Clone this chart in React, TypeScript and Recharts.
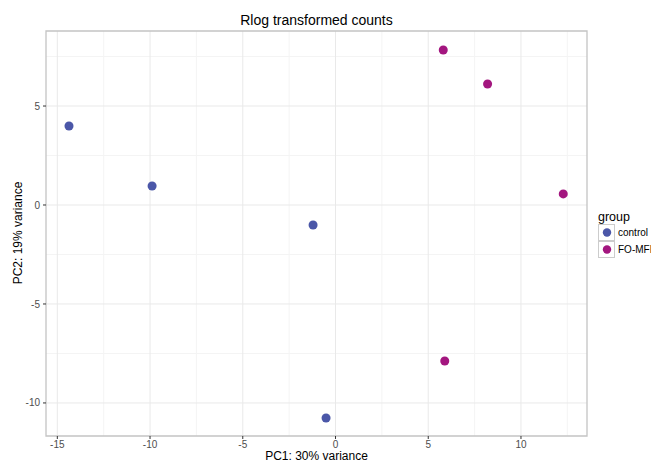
import React from 'react';
import {
  ScatterChart,
  Scatter,
  XAxis,
  YAxis,
  ZAxis,
  CartesianGrid,
  ReferenceArea,
  Legend,
} from 'recharts';

// ---- data ----
const groups = ['control', 'FO-MFD'];
const controlPC1 = [-14.37, -9.89, -1.21, -0.51];
const controlPC2 = [3.99, 0.96, -1.01, -10.76];
const fomfdPC1 = [5.81, 8.2, 12.28, 5.89];
const fomfdPC2 = [7.83, 6.11, 0.56, -7.88];

const xTicks = [-15, -10, -5, 0, 5, 10];
const yTicks = [-10, -5, 0, 5];
const xMinor = [-12.5, -7.5, -2.5, 2.5, 7.5, 12.5];
const yMinor = [-7.5, -2.5, 2.5, 7.5];
const xDomain = [-15.61, 13.56];
const yDomain = [-11.67, 8.79];

const title = 'Rlog transformed counts';
const xTitle = 'PC1: 30% variance';
const yTitle = 'PC2: 19% variance';
const legendTitle = 'group';

const colors = ['#4B57A8', '#A3167F'];

const controlData = controlPC1.map((x, i) => ({ x, y: controlPC2[i] }));
const fomfdData = fomfdPC1.map((x, i) => ({ x, y: fomfdPC2[i] }));

const FONT = '"Liberation Sans", Arial, Helvetica, sans-serif';

const W = 651;
const H = 462;

const LegendContent = () => (
  <svg width={55} height={60} style={{ overflow: 'visible', display: 'block' }}>
    <text x={1} y={12} fontSize={12.5} fill="#000" fontFamily={FONT}>
      {legendTitle}
    </text>
    {groups.map((g, i) => (
      <g key={g}>
        <rect
          x={1.5}
          y={15.5 + i * 17}
          width={16}
          height={16}
          fill="#fff"
          stroke="#cccccc"
          strokeWidth={1}
        />
        <circle cx={10} cy={23.5 + i * 17} r={4.2} fill={colors[i]} />
        <text x={21} y={27 + i * 17} fontSize={10} fill="#000" fontFamily={FONT}>
          {g}
        </text>
      </g>
    ))}
  </svg>
);

export default function App() {
  return (
    <div
      style={{
        position: 'absolute',
        left: 0,
        top: 0,
        width: W,
        height: H,
        overflow: 'hidden',
        background: '#fff',
      }}
    >
      <ScatterChart
        width={W}
        height={H}
        margin={{ top: 31, right: 9, bottom: 0, left: 0 }}
        style={{ fontFamily: FONT }}
      >
        <CartesianGrid
          stroke="#f4f4f4"
          strokeWidth={1}
          verticalValues={xMinor}
          horizontalValues={yMinor}
        />
        <CartesianGrid
          stroke="#e9e9e9"
          strokeWidth={1}
          verticalValues={xTicks}
          horizontalValues={yTicks}
        />
        <XAxis
          type="number"
          dataKey="x"
          domain={xDomain}
          ticks={xTicks}
          allowDataOverflow
          height={26}
          axisLine={false}
          tickSize={3}
          tickMargin={2}
          tickLine={{ stroke: '#333333' }}
          tick={{ fontSize: 10, fill: '#4d4d4d', fontFamily: FONT }}
        />
        <YAxis
          type="number"
          dataKey="y"
          domain={yDomain}
          ticks={yTicks}
          allowDataOverflow
          width={46}
          axisLine={false}
          tickSize={3}
          tickMargin={3}
          tickLine={{ stroke: '#333333' }}
          tick={{ fontSize: 10, fill: '#4d4d4d', fontFamily: FONT }}
        />
        <ZAxis range={[56, 56]} />
        <ReferenceArea
          x1={xDomain[0]}
          x2={xDomain[1]}
          y1={yDomain[0]}
          y2={yDomain[1]}
          fill="none"
          stroke="#c4c4c4"
          strokeWidth={1.3}
          ifOverflow="visible"
        />
        <Scatter
          name={groups[0]}
          data={controlData}
          fill={colors[0]}
          isAnimationActive={false}
        />
        <Scatter
          name={groups[1]}
          data={fomfdData}
          fill={colors[1]}
          isAnimationActive={false}
        />
        <Legend
          layout="vertical"
          align="right"
          verticalAlign="middle"
          content={<LegendContent />}
          wrapperStyle={{ position: 'absolute', left: 597, top: 209, width: 55, height: 60 }}
        />
        <text
          x={316.5}
          y={25}
          textAnchor="middle"
          fontSize={14}
          fill="#000"
          fontFamily={FONT}
        >
          {title}
        </text>
        <text
          x={316.5}
          y={460}
          textAnchor="middle"
          fontSize={12}
          fill="#000"
          fontFamily={FONT}
        >
          {xTitle}
        </text>
        <text
          x={0}
          y={0}
          transform="translate(22,233) rotate(-90)"
          textAnchor="middle"
          fontSize={12}
          fill="#000"
          fontFamily={FONT}
        >
          {yTitle}
        </text>
      </ScatterChart>
    </div>
  );
}
